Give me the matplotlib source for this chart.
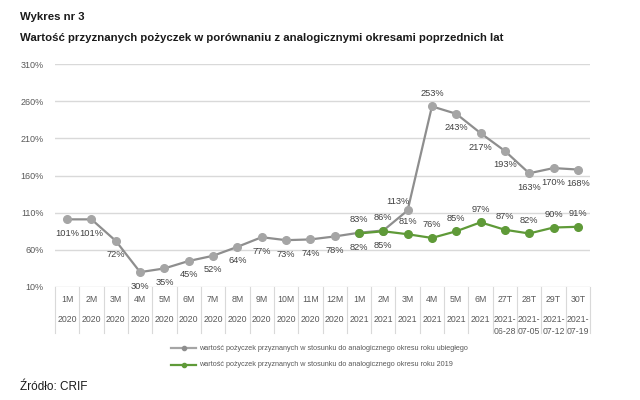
import matplotlib
matplotlib.use("Agg")
import matplotlib.pyplot as plt
from matplotlib.lines import Line2D
import numpy as np

row1 = ['1M','2M','3M','4M','5M','6M','7M','8M','9M','10M','11M','12M',
        '1M','2M','3M','4M','5M','6M','27T','28T','29T','30T']
row2 = ['2020']*12 + ['2021']*6 + ['2021-\n06-28','2021-\n07-05','2021-\n07-12','2021-\n07-19']
grey_vals = [101,101,72,30,35,45,52,64,77,73,74,78,83,86,113,253,243,217,193,163,170,168]
green_vals = [82,85,81,76,85,97,87,82,90,91]
green_start = 12
yticks = [10,60,110,160,210,260,310]
grey_pos = ['b']*12 + ['a','a','al','a','b','b','b','b','b','b']
green_pos = ['b','b','a','a','a','a','a','a','a','a']

legend1 = "wartość pożyczek przyznanych w stosunku do analogicznego okresu roku ubiegłego"
legend2 = "wartość pożyczek przyznanych w stosunku do analogicznego okresu roku 2019"

plt.rcParams['font.family'] = ['Liberation Sans', 'DejaVu Sans']
W, H = 640, 400
fig = plt.figure(figsize=(6.4, 4.0), dpi=100)
ax_l, ax_r, ax_t, ax_b = 55, 590, 64, 287
ax = fig.add_axes([ax_l/W, 1-ax_b/H, (ax_r-ax_l)/W, (ax_b-ax_t)/H])

GREY_LINE = '#8e8e8e'
GREY_MK = '#a5a5a5'
GREEN = '#5f9a38'
TXT = '#404040'

n = len(row1)
x = np.arange(n)
ax.set_xlim(-0.5, n-0.5)
ax.set_ylim(10, 310)
for s in ax.spines.values():
    s.set_visible(False)
ax.set_yticks(yticks)
ax.set_yticklabels([f"{v}%" for v in yticks])
ax.tick_params(axis='y', length=0, labelsize=6.5, labelcolor='#595959', pad=8)
ax.set_xticks([])
ax.grid(axis='y', color='#d9d9d9', linewidth=1.0)
ax.set_axisbelow(True)

ax.plot(x, grey_vals, color=GREY_LINE, lw=1.6, marker='o', ms=5.5,
        mfc=GREY_MK, mec=GREY_MK, zorder=3)
gx = x[green_start:green_start+len(green_vals)]
ax.plot(gx, green_vals, color=GREEN, lw=1.6, marker='o', ms=5.5,
        mfc=GREEN, mec=GREEN, zorder=4)

def off(p):
    k = 0.72
    if p == 'a':
        return (0, 13*k)
    if p == 'al':
        return (-10*k, 9*k)
    return (0, -14*k)

for xi, v, p in zip(x, grey_vals, grey_pos):
    ax.annotate(f"{v}%", (xi, v), xytext=off(p), textcoords='offset points',
                ha='center', va='center', fontsize=6.7, color=TXT, zorder=5)
for xi, v, p in zip(gx, green_vals, green_pos):
    ax.annotate(f"{v}%", (xi, v), xytext=off(p), textcoords='offset points',
                ha='center', va='center', fontsize=6.7, color=TXT, zorder=5)

# category table
trans = ax.get_xaxis_transform()
def ay(py):
    return (ax_b - py) / (ax_b - ax_t)
for b in np.arange(-0.5, n, 1.0):
    ax.plot([b, b], [0, ay(333)], transform=trans, color='#d9d9d9', lw=0.8,
            clip_on=False)
for xi, a, b in zip(x, row1, row2):
    ax.text(xi, ay(299), a, transform=trans, ha='center', va='center',
            fontsize=6.3, color='#595959')
    parts = b.split('\n')
    for j, pt in enumerate(parts):
        ax.text(xi, ay(319 + 12*j), pt, transform=trans, ha='center', va='center',
                fontsize=6.3, color='#595959')

# legend
for py, col, lab in [(348, GREY_LINE, legend1), (365, GREEN, legend2)]:
    fy = 1 - py/H
    fig.add_artist(Line2D([171/W, 196/W], [fy, fy], color=col if col != GREY_LINE else GREY_MK,
                          lw=1.6, transform=fig.transFigure))
    fig.add_artist(Line2D([183.5/W], [fy], color=col, marker='o', ms=3,
                          transform=fig.transFigure))
    fig.text(199/W, fy, lab, fontsize=5.2, color='#595959', ha='left', va='center')

fig.text(20/W, 1-17/H, "Wykres nr 3", fontsize=8.2, fontweight='bold', color='#1a1a1a',
         ha='left', va='center')
fig.text(20/W, 1-38/H, "Wartość przyznanych pożyczek w porównaniu z analogicznymi okresami poprzednich lat",
         fontsize=8.2, fontweight='bold', color='#1a1a1a', ha='left', va='center')
fig.text(20/W, 1-387/H, "Źródło: CRIF", fontsize=8.5, color='#1a1a1a', ha='left', va='center')

fig.savefig("out.png", dpi=100, facecolor='white')
